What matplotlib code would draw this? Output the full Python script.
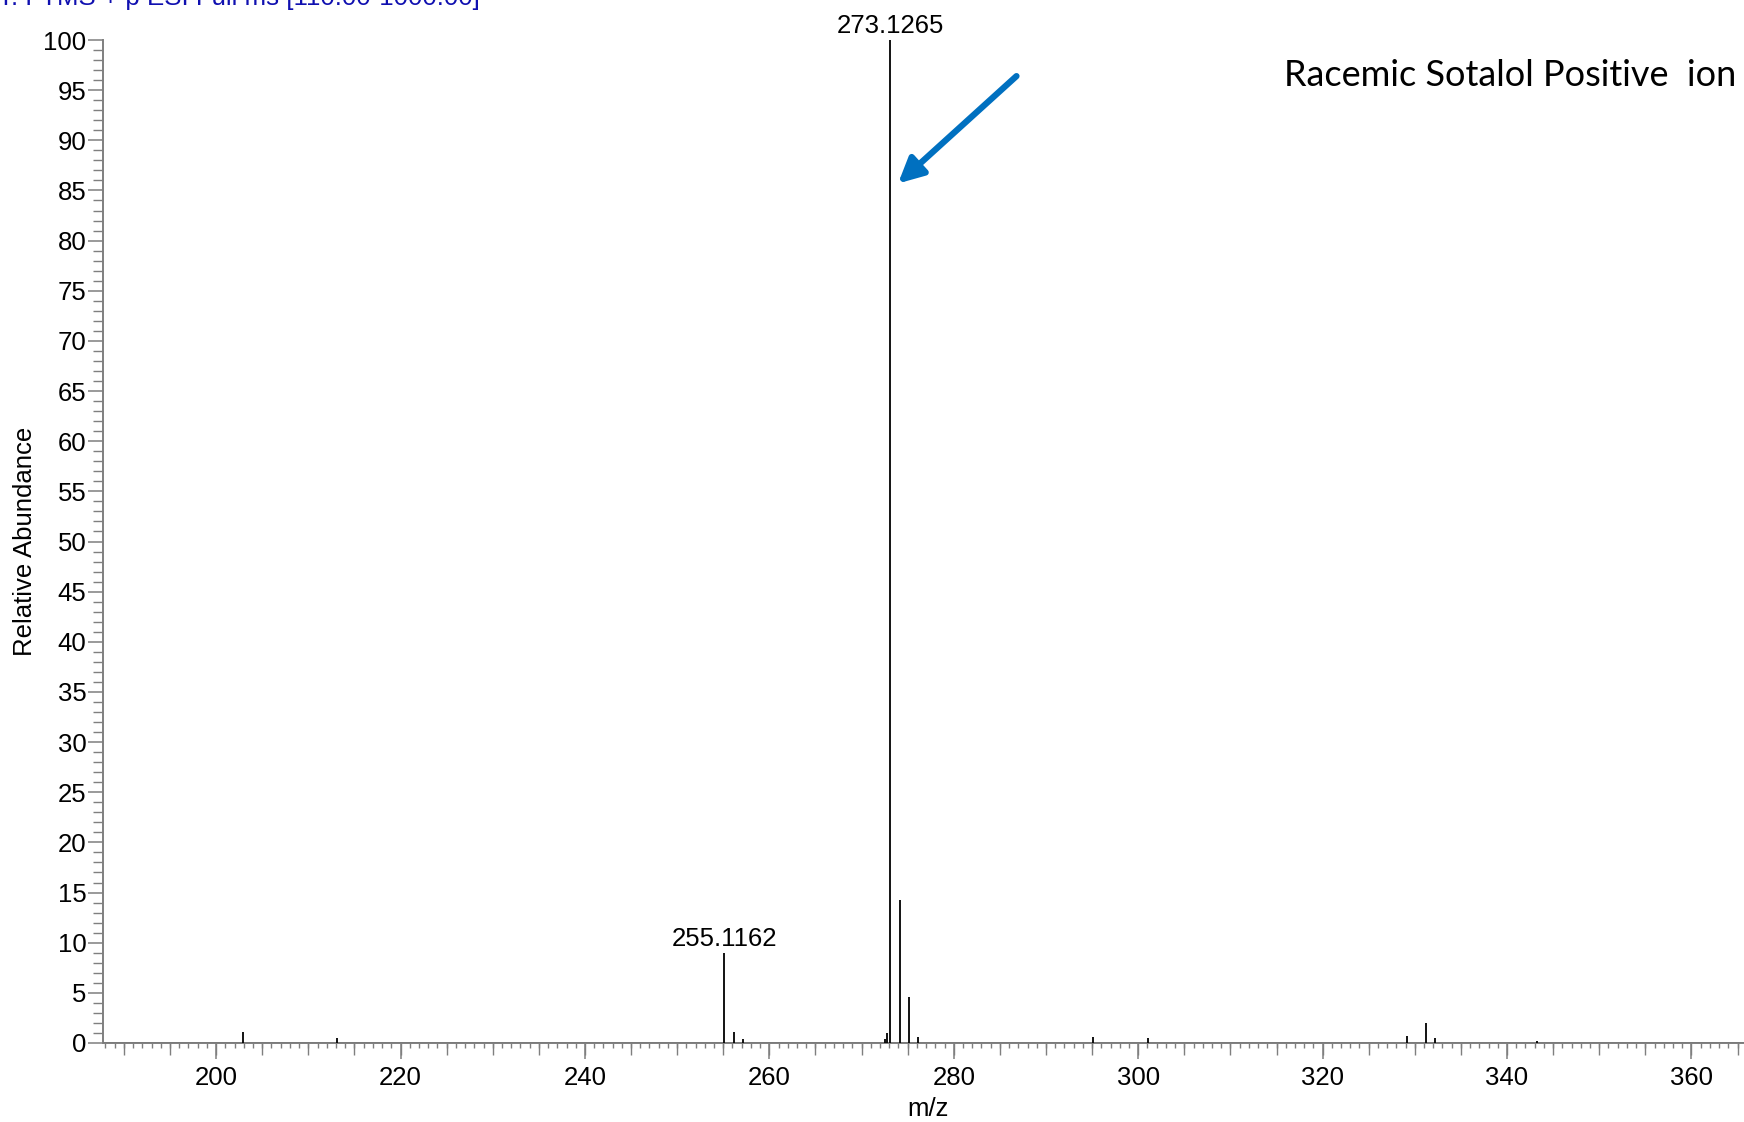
import numpy as np
import matplotlib
matplotlib.use('Agg')
import matplotlib.pyplot as plt
from matplotlib.ticker import MultipleLocator

plt.rcParams['font.family'] = ['Liberation Sans', 'DejaVu Sans']

# centroid peaks (m/z, relative abundance)
mz = [202.9, 213.1, 255.1162, 256.12, 257.1, 272.5, 272.8, 273.1265,
      274.13, 275.12, 276.1, 295.1, 301.1, 329.2, 331.2, 332.2, 343.2]
abundance = [1.1, 0.5, 9.0, 1.05, 0.35, 0.4, 1.0, 100.0,
             14.3, 4.6, 0.55, 0.55, 0.5, 0.66, 1.95, 0.45, 0.2]
labelled = [255.1162, 273.1265]
xlim = (187.7, 365.7)

header = 'T: FTMS + p ESI Full ms [110.00-1000.00]'
title = 'Racemic Sotalol Positive  ion'

W, H = 1744, 1122
fig = plt.figure(figsize=(W / 100, H / 100), dpi=100)
ax = fig.add_axes([102.7 / W, 1 - 1043 / H, 1 - 102.7 / W, 1003 / H])

gray = '#7f7f7f'
ax.vlines(mz, 0, abundance, color='black', lw=1.3, clip_on=False, zorder=3)
ax.axhline(0, color='black', lw=0.8, zorder=3)

for m in labelled:
    h = abundance[mz.index(m)]
    ax.annotate('%.4f' % m, xy=(m, h), xytext=(0, 5), textcoords='offset points',
                ha='center', va='baseline', fontsize=18.5, annotation_clip=False)

# blue arrow pointing at the base peak
ax.annotate('', xy=(273.96, 85.7), xytext=(286.8, 96.4),
            arrowprops=dict(arrowstyle='-|>,head_length=0.6,head_width=0.3',
                            color='#0070C0', lw=4.5, mutation_scale=25,
                            shrinkA=0, shrinkB=0))

ax.set_xlim(*xlim)
ax.set_ylim(0, 100)

for s in ['top', 'right']:
    ax.spines[s].set_visible(False)
for s in ['left', 'bottom']:
    ax.spines[s].set_color(gray)
    ax.spines[s].set_linewidth(1.4)

ax.xaxis.set_major_locator(MultipleLocator(20))
ax.xaxis.set_minor_locator(MultipleLocator(1))
ax.yaxis.set_major_locator(MultipleLocator(5))
ax.yaxis.set_minor_locator(MultipleLocator(1))
ax.tick_params(axis='x', which='major', length=11.5, width=1.1, color=gray,
               labelsize=18.5, pad=5)
ax.tick_params(axis='x', which='minor', length=3.6, width=1.0, color=gray)
ax.tick_params(axis='y', which='major', length=10.8, width=1.1, color=gray,
               labelsize=18.5, pad=1)
ax.tick_params(axis='y', which='minor', length=7.0, width=1.0, color=gray)

# medium ticks every 5 m/z
sec = ax.secondary_xaxis('bottom')
sec.spines['bottom'].set_visible(False)
sec.xaxis.set_major_locator(MultipleLocator(5))
sec.tick_params(axis='x', which='major', length=8.6, width=1.0, color=gray,
                labelbottom=False)
sec.xaxis.set_minor_locator(matplotlib.ticker.NullLocator())

ax.set_xlabel('m/z', fontsize=18.5, va='center')
ax.xaxis.set_label_coords(0.503, -0.066)
ax.set_ylabel('Relative Abundance', fontsize=18.5, va='center')
ax.yaxis.set_label_coords(-0.0476, 0.5)

fig.text(-0.001, 1 - 5 / H, header, color='#1010b0', fontsize=18.6,
         ha='left', va='baseline')
fig.text(1283.5 / W, 1 - 75 / H, title, fontsize=26, family=['Lato', 'DejaVu Sans'],
         ha='left', va='center')

fig.savefig('out.png', dpi=100)
